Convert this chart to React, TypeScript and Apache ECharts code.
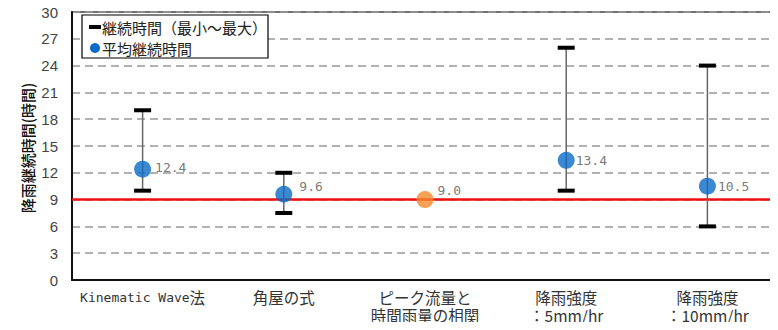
import React, { useEffect, useRef } from "react";
import * as echarts from "echarts";

const categories = [
  "Kinematic Wave法",
  "角屋の式",
  "ピーク流量と\n時間雨量の相関",
  "降雨強度\n：5mm/hr",
  "降雨強度\n：10mm/hr",
];
const minValues: (number | null)[] = [10, 7.5, null, 10, 6];
const maxValues: (number | null)[] = [19, 12, null, 26, 24];
const meanValues = [12.4, 9.6, 9.0, 13.4, 10.5];
const meanColors = ["#0b6cc7", "#0b6cc7", "#f58a2c", "#0b6cc7", "#0b6cc7"];
const labelOffsets: [number, number][] = [
  [4, -2],
  [7, -8],
  [4, -9],
  [1, 0],
  [2, 0],
];
const refValue = 9.0;
const yTicks = { min: 0, max: 30, interval: 3 };
const yAxisName = "降雨継続時間(時間)";
const legendNames = ["継続時間（最小～最大）", "平均継続時間"];

const JP = "'Noto Sans CJK JP', sans-serif";
const MONO = "'DejaVu Sans Mono', 'Noto Sans CJK JP', monospace";

function formatCategory(v: string): string {
  return v
    .split("\n")
    .map((line) => {
      const m = line.match(/^([A-Za-z ]+)(.*)$/);
      if (m) return `{m|${m[1]}}{j|${m[2]}}`;
      return `{j|${line}}`;
    })
    .join("\n");
}

export default function App() {
  const ref = useRef<HTMLDivElement>(null);
  useEffect(() => {
    if (!ref.current) return;
    const chart = echarts.init(ref.current, undefined, { renderer: "svg" });
    const rangeData = categories.map((_, i) => [i, minValues[i], maxValues[i]]).filter((d) => d[1] != null);
    chart.setOption({
      animation: false,
      backgroundColor: "#fff",
      grid: {
        left: 72,
        right: -4,
        top: 12,
        bottom: 50,
        show: true,
        borderColor: "#444",
        borderWidth: 1.5,
      },
      xAxis: {
        type: "category",
        data: categories,
        boundaryGap: true,
        axisLine: { show: true, lineStyle: { color: "#111", width: 2 } },
        axisTick: { show: false },
        splitLine: { show: false },
        axisLabel: {
          interval: 0,
          margin: 8,
          verticalAlign: "top",
          formatter: formatCategory,
          rich: {
            m: { fontFamily: "'DejaVu Sans Mono', monospace", fontSize: 13, color: "#333", lineHeight: 18, height: 18 },
            j: { fontFamily: JP, fontSize: 15.5, color: "#333", lineHeight: 18, height: 18 },
          },
        },
      },
      yAxis: {
        type: "value",
        min: yTicks.min,
        max: yTicks.max,
        interval: yTicks.interval,
        axisLine: { show: true, lineStyle: { color: "#111", width: 2 } },
        axisTick: { show: false },
        axisLabel: { color: "#444", fontSize: 15, margin: 14, fontFamily: "'Liberation Sans Narrow', 'Liberation Sans', sans-serif" },
        splitLine: { show: true, lineStyle: { color: "#999", width: 1.5, type: [8, 5] } },
      },
      series: [
        {
          type: "custom",
          name: legendNames[0],
          data: rangeData,
          z: 3,
          renderItem: (params: any, api: any) => {
            const x = api.value(0);
            const lo = api.coord([x, api.value(1)]);
            const hi = api.coord([x, api.value(2)]);
            const cw = 17;
            return {
              type: "group",
              children: [
                { type: "line", shape: { x1: lo[0], y1: lo[1], x2: hi[0], y2: hi[1] }, style: { stroke: "#666", lineWidth: 1.5 } },
                { type: "rect", shape: { x: lo[0] - cw / 2, y: lo[1] - 2, width: cw, height: 4 }, style: { fill: "#000" } },
                { type: "rect", shape: { x: hi[0] - cw / 2, y: hi[1] - 2, width: cw, height: 4 }, style: { fill: "#000" } },
              ],
            };
          },
        },
        {
          type: "scatter",
          name: legendNames[1],
          z: 5,
          symbolSize: 17,
          data: meanValues.map((v, i) => ({
            value: [i, v],
            itemStyle: { color: meanColors[i] },
            label: { offset: labelOffsets[i] },
          })),
          label: {
            show: true,
            position: "right",
            distance: 0,
            color: "#555",
            fontSize: 13,
            fontFamily: MONO,
            formatter: (p: any) => p.value[1].toFixed(1),
          },
          markLine: {
            silent: true,
            symbol: "none",
            label: { show: false },
            lineStyle: { color: "#ee1111", width: 2.5, type: "solid" },
            data: [{ yAxis: refValue }],
            z: 2,
          },
        },
      ],
      graphic: [
        { type: "rect", shape: { x: 32, y: 0, width: 746, height: 3 }, style: { fill: "#000" } },
        { type: "line", shape: { x1: 487, y1: 0, x2: 487, y2: 1 }, style: { stroke: "#000", lineWidth: 1.5 } },
        {
          type: "text",
          x: 27,
          y: 148,
          rotation: Math.PI / 2,
          style: {
            text: yAxisName,
            fontSize: 15,
            fill: "#111",
            fontFamily: JP,
            fontWeight: 500,
            align: "center",
            verticalAlign: "middle",
          },
        },
        {
          type: "rect",
          z: 10,
          shape: { x: 82, y: 15, width: 186, height: 43 },
          style: { fill: "#fff", stroke: "#000", lineWidth: 1.2 },
        },
        { type: "rect", z: 11, shape: { x: 89, y: 25, width: 12, height: 4 }, style: { fill: "#000" } },
        {
          type: "text",
          z: 11,
          x: 102,
          y: 27,
          style: { text: legendNames[0], fontSize: 15, fill: "#222", fontFamily: JP, verticalAlign: "middle" },
        },
        { type: "circle", z: 11, shape: { cx: 95, cy: 48, r: 5 }, style: { fill: "#0b6cc7" } },
        {
          type: "text",
          z: 11,
          x: 102,
          y: 48,
          style: { text: legendNames[1], fontSize: 15, fill: "#222", fontFamily: JP, verticalAlign: "middle" },
        },
      ],
    });
    return () => chart.dispose();
  }, []);
  return <div ref={ref} style={{ width: 778, height: 330, margin: -8 }} />;
}
